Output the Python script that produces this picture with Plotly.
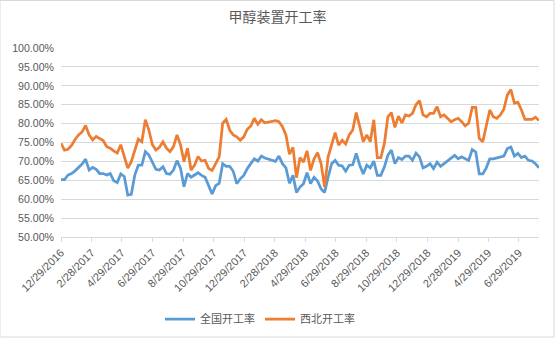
import datetime as dt
import plotly.graph_objects as go

start = dt.date(2016, 12, 29)

national = [
    65.2, 65.2, 66.4, 66.8, 67.5, 68.4, 69.3, 70.6, 67.7, 68.4,
    67.9, 66.8, 66.8, 66.4, 66.8, 64.9, 64.4, 66.7, 66.0, 61.1,
    61.3, 66.4, 69.0, 69.0, 72.6, 71.7, 69.7, 67.9, 67.7, 68.6,
    66.8, 66.6, 67.7, 70.2, 68.2, 63.3, 66.8, 65.8, 66.4, 67.0,
    66.3, 65.8, 63.6, 61.4, 63.6, 64.2, 69.4, 68.7, 68.7, 67.4,
    64.1, 65.4, 66.3, 68.1, 69.4, 70.7, 70.1, 71.4, 70.9, 70.6,
    70.3, 70.0, 71.4, 69.4, 68.3, 64.2, 66.3, 61.8, 63.2, 64.1,
    67.0, 64.1, 65.8, 64.8, 62.7, 61.8, 65.8, 69.4, 70.3, 69.0,
    68.8, 67.4, 69.0, 69.1, 72.1, 69.0, 66.7, 69.0, 68.3,
    70.1, 66.3, 66.3, 68.5, 71.6, 73.0, 69.4, 71.0, 70.5, 71.4,
    71.4, 70.3, 72.2, 71.2, 68.3, 68.7, 69.4, 68.1, 69.8, 68.7,
    69.4, 70.1, 71.0, 71.6, 70.7, 71.2, 70.7, 70.3, 73.1, 72.5,
    66.7, 66.7, 68.3, 70.7, 70.7, 71.0, 71.2, 71.4, 73.4, 73.8,
    71.4, 72.1, 71.0, 71.4, 70.3, 70.1, 69.4, 68.3,
]

northwest = [
    74.8, 73.0, 73.2, 74.2, 75.8, 77.0, 77.8, 79.5, 77.0, 75.7,
    76.6, 76.1, 75.5, 73.9, 73.5, 72.8, 72.2, 74.4, 71.3, 68.2,
    69.9, 73.0, 75.9, 75.2, 81.0, 78.3, 74.4, 73.0, 73.7, 75.2,
    73.5, 72.6, 73.9, 77.0, 74.4, 69.9, 73.5, 67.7, 69.0, 71.3,
    70.1, 70.3, 68.1, 67.6, 69.4, 71.2, 80.1, 81.1, 78.3, 77.0,
    76.5, 75.6, 76.5, 78.5, 79.4, 81.4, 79.8, 81.0, 80.2, 80.4,
    80.5, 80.8, 80.5, 79.2, 77.0, 71.9, 73.7, 65.7, 71.0, 69.8,
    72.8, 67.6, 70.7, 72.3, 69.4, 63.2, 71.2, 74.3, 77.6, 74.3,
    75.6, 74.6, 77.0, 78.3, 82.9, 79.2, 75.2, 77.0, 75.2,
    81.0, 71.0, 71.0, 74.7, 81.8, 82.9, 79.0, 82.0, 80.2, 82.3,
    82.0, 82.7, 85.0, 86.1, 82.3, 81.8, 82.7, 82.7, 84.5, 81.8,
    82.3, 81.4, 80.5, 81.0, 81.4, 80.5, 79.4, 80.1, 84.3, 84.3,
    76.1, 75.2, 79.6, 83.6, 81.8, 81.4, 82.3, 83.8, 87.6, 89.0,
    85.4, 85.6, 83.6, 81.1, 81.1, 81.1, 81.7, 80.8,
]

dates = [start + dt.timedelta(days=7 * i) for i in range(len(national))]

tick_labels = [
    "12/29/2016", "2/28/2017", "4/29/2017", "6/29/2017", "8/29/2017",
    "10/29/2017", "12/29/2017", "2/28/2018", "4/29/2018", "6/29/2018",
    "8/29/2018", "10/29/2018", "12/29/2018", "2/28/2019", "4/29/2019",
    "6/29/2019",
]
tick_vals = [dt.datetime.strptime(t, "%m/%d/%Y").date() for t in tick_labels]

series_names = ["全国开工率", "西北开工率"]
colors = ["#5B9BD5", "#ED7D31"]

fig = go.Figure()
for name, vals, col in zip(series_names, [national, northwest], colors):
    fig.add_trace(go.Scatter(
        x=dates, y=[v / 100 for v in vals], mode="lines", name=name,
        line=dict(color=col, width=2.75),
    ))

txt = "#595959"
grid = "#D9D9D9"
fig.update_layout(
    width=555, height=338,
    margin=dict(l=61, r=16, t=48, b=101),
    paper_bgcolor="white", plot_bgcolor="white",
    font=dict(family="Liberation Sans, Noto Sans CJK SC", size=10, color=txt),
    title=dict(text="甲醇装置开工率", x=0.5, xanchor="center", y=1 - 17 / 338,
               yanchor="middle",
               font=dict(family="Noto Sans CJK SC", size=14, color=txt)),
    showlegend=True,
    legend=dict(orientation="h", xref="container", yref="container",
                x=160 / 555, xanchor="left",
                y=1 - 319 / 338, yanchor="middle", bgcolor="rgba(0,0,0,0)",
                font=dict(family="Noto Sans CJK SC", size=11, color=txt),
                itemwidth=30, tracegroupgap=0),
    xaxis=dict(
        type="date", range=[dates[0], dates[-1]],
        tickvals=tick_vals, ticktext=tick_labels, tickangle=-45,
        showgrid=False, showline=True, linecolor=grid, linewidth=1,
        ticks="outside", ticklen=4, tickcolor=grid,
        tickfont=dict(size=11, color=txt), zeroline=False, automargin=False,
    ),
    yaxis=dict(
        range=[0.5, 1.0], dtick=0.05, tick0=0.5, tickformat=".2%",
        showgrid=True, gridcolor=grid, gridwidth=1, zeroline=False,
        showline=False, ticks="", ticklabelstandoff=6, automargin=False,
        tickfont=dict(size=10.6, color=txt),
    ),
    shapes=[dict(type="rect", xref="paper", yref="paper",
                 x0=-61 / 478, x1=1 + 15 / 478, y0=-100 / 189, y1=1 + 47.5 / 189,
                 line=dict(color=grid, width=1), fillcolor="rgba(0,0,0,0)",
                 layer="below")],
)

fig.write_html("out.html")
